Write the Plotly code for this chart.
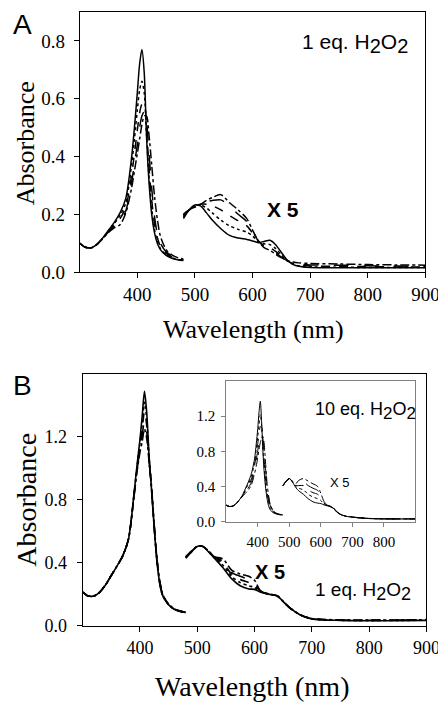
import plotly.graph_objects as go

# ---------------- data ----------------
wl_uv = [300, 310, 320, 330, 340, 350, 360, 370, 380, 390, 395, 400, 404, 408, 412, 416, 420, 425, 430, 435, 440, 450, 460, 470, 480]
wl_vis = [480, 490, 500, 510, 520, 530, 545, 560, 575, 590, 600, 610, 620, 630, 640, 650, 660, 670, 680, 700, 750, 800, 850, 900]

# Panel A (1 eq. H2O2) - Soret region
a_uv_0 = [0.100, 0.086, 0.084, 0.096, 0.118, 0.145, 0.172, 0.205, 0.255, 0.395, 0.50, 0.62, 0.72, 0.77, 0.69, 0.47, 0.32, 0.20, 0.135, 0.098, 0.078, 0.058, 0.048, 0.043, 0.040]
a_uv_1 = [0.100, 0.086, 0.084, 0.096, 0.117, 0.143, 0.168, 0.196, 0.240, 0.370, 0.46, 0.56, 0.63, 0.66, 0.62, 0.48, 0.34, 0.22, 0.145, 0.105, 0.082, 0.060, 0.050, 0.044, 0.041]
a_uv_2 = [0.100, 0.086, 0.084, 0.096, 0.116, 0.141, 0.163, 0.185, 0.225, 0.335, 0.41, 0.49, 0.55, 0.58, 0.58, 0.50, 0.37, 0.25, 0.165, 0.118, 0.090, 0.065, 0.053, 0.046, 0.042]
a_uv_3 = [0.100, 0.086, 0.084, 0.096, 0.116, 0.139, 0.158, 0.172, 0.212, 0.310, 0.375, 0.44, 0.50, 0.54, 0.555, 0.52, 0.42, 0.29, 0.19, 0.130, 0.100, 0.070, 0.056, 0.048, 0.043]
a_uv_4 = [0.100, 0.086, 0.084, 0.096, 0.116, 0.137, 0.153, 0.164, 0.205, 0.290, 0.35, 0.41, 0.46, 0.51, 0.54, 0.54, 0.48, 0.37, 0.26, 0.180, 0.125, 0.078, 0.060, 0.050, 0.045]
# Panel A - visible region (x5)
a_vis_0 = [0.185, 0.215, 0.232, 0.228, 0.205, 0.180, 0.150, 0.127, 0.118, 0.113, 0.108, 0.102, 0.106, 0.110, 0.095, 0.068, 0.042, 0.027, 0.020, 0.016, 0.015, 0.015, 0.015, 0.015]
a_vis_1 = [0.190, 0.215, 0.230, 0.232, 0.222, 0.205, 0.180, 0.160, 0.148, 0.138, 0.125, 0.105, 0.098, 0.095, 0.082, 0.060, 0.040, 0.028, 0.022, 0.018, 0.017, 0.016, 0.016, 0.016]
a_vis_2 = [0.195, 0.215, 0.228, 0.235, 0.235, 0.230, 0.215, 0.195, 0.178, 0.160, 0.135, 0.108, 0.092, 0.085, 0.072, 0.055, 0.040, 0.030, 0.025, 0.021, 0.020, 0.019, 0.018, 0.018]
a_vis_3 = [0.198, 0.215, 0.226, 0.236, 0.243, 0.248, 0.250, 0.228, 0.200, 0.175, 0.142, 0.108, 0.088, 0.078, 0.066, 0.052, 0.040, 0.032, 0.028, 0.025, 0.024, 0.022, 0.021, 0.020]
a_vis_4 = [0.200, 0.215, 0.225, 0.235, 0.248, 0.258, 0.268, 0.240, 0.215, 0.185, 0.145, 0.108, 0.085, 0.075, 0.062, 0.050, 0.040, 0.035, 0.032, 0.030, 0.028, 0.026, 0.025, 0.024]

# Panel B (1 eq. H2O2) - Soret region
b_uv_0 = [0.215, 0.190, 0.190, 0.215, 0.260, 0.320, 0.380, 0.445, 0.550, 0.850, 1.02, 1.18, 1.33, 1.49, 1.35, 1.08, 0.88, 0.62, 0.40, 0.26, 0.19, 0.135, 0.105, 0.092, 0.085]
b_uv_1 = [0.215, 0.190, 0.190, 0.215, 0.260, 0.320, 0.380, 0.445, 0.550, 0.845, 1.01, 1.16, 1.29, 1.42, 1.31, 1.07, 0.885, 0.625, 0.405, 0.265, 0.19, 0.135, 0.105, 0.092, 0.085]
b_uv_2 = [0.215, 0.190, 0.190, 0.215, 0.260, 0.320, 0.380, 0.445, 0.550, 0.840, 1.00, 1.14, 1.25, 1.36, 1.27, 1.06, 0.89, 0.63, 0.41, 0.27, 0.195, 0.137, 0.106, 0.093, 0.086]
b_uv_3 = [0.215, 0.190, 0.190, 0.215, 0.260, 0.320, 0.380, 0.445, 0.550, 0.835, 0.99, 1.12, 1.21, 1.30, 1.23, 1.05, 0.895, 0.635, 0.415, 0.275, 0.195, 0.138, 0.107, 0.094, 0.086]
b_uv_4 = [0.215, 0.190, 0.190, 0.215, 0.260, 0.320, 0.380, 0.445, 0.550, 0.830, 0.98, 1.10, 1.17, 1.25, 1.19, 1.04, 0.90, 0.64, 0.42, 0.28, 0.20, 0.140, 0.108, 0.095, 0.087]
# Panel B - visible region (x5)
b_vis_0 = [0.430, 0.470, 0.505, 0.505, 0.470, 0.430, 0.370, 0.300, 0.255, 0.235, 0.232, 0.215, 0.205, 0.198, 0.190, 0.155, 0.120, 0.093, 0.070, 0.045, 0.035, 0.033, 0.034, 0.035]
b_vis_1 = [0.432, 0.471, 0.505, 0.505, 0.471, 0.432, 0.385, 0.315, 0.275, 0.255, 0.245, 0.218, 0.206, 0.198, 0.190, 0.155, 0.120, 0.093, 0.070, 0.045, 0.036, 0.034, 0.035, 0.036]
b_vis_2 = [0.435, 0.472, 0.505, 0.505, 0.472, 0.435, 0.400, 0.330, 0.295, 0.275, 0.260, 0.220, 0.206, 0.199, 0.190, 0.155, 0.120, 0.093, 0.070, 0.046, 0.036, 0.035, 0.036, 0.037]
b_vis_3 = [0.438, 0.474, 0.505, 0.505, 0.474, 0.438, 0.410, 0.340, 0.315, 0.295, 0.275, 0.222, 0.207, 0.199, 0.190, 0.155, 0.120, 0.093, 0.070, 0.046, 0.037, 0.036, 0.037, 0.038]
b_vis_4 = [0.440, 0.475, 0.505, 0.505, 0.475, 0.440, 0.425, 0.355, 0.330, 0.315, 0.290, 0.225, 0.208, 0.200, 0.190, 0.155, 0.120, 0.093, 0.070, 0.047, 0.038, 0.037, 0.038, 0.040]

# Inset (10 eq. H2O2) - Soret region
c_uv_0 = [0.187, 0.172, 0.175, 0.200, 0.240, 0.290, 0.370, 0.450, 0.550, 0.72, 0.88, 1.06, 1.25, 1.37, 1.15, 0.82, 0.58, 0.38, 0.25, 0.17, 0.13, 0.100, 0.085, 0.078, 0.075]
c_uv_1 = [0.187, 0.172, 0.175, 0.200, 0.239, 0.288, 0.357, 0.427, 0.517, 0.68, 0.82, 0.97, 1.10, 1.22, 1.10, 0.85, 0.64, 0.44, 0.29, 0.20, 0.15, 0.105, 0.088, 0.079, 0.076]
c_uv_2 = [0.187, 0.172, 0.175, 0.200, 0.238, 0.286, 0.345, 0.405, 0.485, 0.64, 0.76, 0.89, 0.99, 1.08, 1.08, 0.90, 0.72, 0.50, 0.33, 0.23, 0.16, 0.110, 0.090, 0.080, 0.076]
c_uv_3 = [0.187, 0.172, 0.175, 0.200, 0.237, 0.283, 0.332, 0.382, 0.452, 0.60, 0.70, 0.81, 0.90, 0.98, 1.00, 0.95, 0.82, 0.58, 0.38, 0.26, 0.18, 0.115, 0.092, 0.082, 0.077]
c_uv_4 = [0.187, 0.172, 0.175, 0.200, 0.235, 0.280, 0.320, 0.360, 0.420, 0.55, 0.63, 0.73, 0.82, 0.90, 0.95, 0.97, 0.90, 0.65, 0.42, 0.28, 0.19, 0.120, 0.095, 0.083, 0.078]
# Inset - visible region (x5)
c_vis_0 = [0.410, 0.460, 0.490, 0.450, 0.390, 0.350, 0.310, 0.260, 0.225, 0.210, 0.205, 0.190, 0.180, 0.170, 0.150, 0.110, 0.085, 0.070, 0.060, 0.050, 0.035, 0.030, 0.030, 0.030]
c_vis_1 = [0.410, 0.460, 0.490, 0.452, 0.400, 0.380, 0.360, 0.310, 0.280, 0.260, 0.240, 0.200, 0.183, 0.171, 0.151, 0.111, 0.086, 0.070, 0.060, 0.050, 0.035, 0.031, 0.030, 0.030]
c_vis_2 = [0.410, 0.460, 0.490, 0.455, 0.410, 0.410, 0.410, 0.360, 0.330, 0.310, 0.270, 0.210, 0.185, 0.172, 0.152, 0.112, 0.087, 0.071, 0.061, 0.051, 0.036, 0.031, 0.031, 0.031]
c_vis_3 = [0.410, 0.460, 0.490, 0.457, 0.420, 0.440, 0.450, 0.410, 0.380, 0.355, 0.300, 0.220, 0.188, 0.173, 0.153, 0.113, 0.088, 0.071, 0.061, 0.051, 0.036, 0.032, 0.031, 0.031]
c_vis_4 = [0.410, 0.460, 0.490, 0.460, 0.430, 0.470, 0.490, 0.460, 0.430, 0.400, 0.320, 0.230, 0.190, 0.175, 0.155, 0.115, 0.090, 0.072, 0.062, 0.052, 0.037, 0.032, 0.031, 0.031]

dash_styles = ["solid", "dot", "dash", "longdash", "dashdot"]

# ---------------- figure ----------------
W, H = 446, 707
fig = go.Figure()


def add_panel(uv_list, vis_list, xa, ya, width):
    for i, (u, v) in enumerate(zip(uv_list, vis_list)):
        for xs, ys in ((wl_uv, u), (wl_vis, v)):
            fig.add_trace(go.Scatter(
                x=xs, y=ys, mode="lines", xaxis=xa, yaxis=ya,
                line=dict(color="black", width=width, dash=dash_styles[i], shape="spline", smoothing=0.8),
                hoverinfo="skip", showlegend=False))


add_panel([a_uv_0, a_uv_1, a_uv_2, a_uv_3, a_uv_4], [a_vis_0, a_vis_1, a_vis_2, a_vis_3, a_vis_4], "x", "y", 1.5)
add_panel([b_uv_0, b_uv_1, b_uv_2, b_uv_3, b_uv_4], [b_vis_0, b_vis_1, b_vis_2, b_vis_3, b_vis_4], "x2", "y2", 1.6)
add_panel([c_uv_0, c_uv_1, c_uv_2, c_uv_3, c_uv_4], [c_vis_0, c_vis_1, c_vis_2, c_vis_3, c_vis_4], "x3", "y3", 1.0)


def px(x):
    return x / W


def py(y):
    return 1 - y / H


serif = "Liberation Serif, Times New Roman, serif"
sans = "Liberation Sans, Arial, sans-serif"


def xax(dom, anchor, size, standoff, color="black", tickvals=(400, 500, 600, 700, 800, 900), ticklen=5):
    return dict(domain=dom, anchor=anchor, range=[300, 900], tickvals=list(tickvals),
                ticks="outside", ticklen=ticklen, tickcolor=color, tickwidth=1,
                showline=True, linecolor=color, linewidth=1, mirror=True,
                showgrid=False, zeroline=False, ticklabelstandoff=standoff,
                tickfont=dict(family=serif, size=size, color="black"))


def yax(dom, anchor, rng, tickvals, size, standoff, color="black", ticklen=5):
    return dict(domain=dom, anchor=anchor, range=rng, tickvals=tickvals,
                ticktext=["%.1f" % t for t in tickvals],
                ticks="outside", ticklen=ticklen, tickcolor=color, tickwidth=1,
                showline=True, linecolor=color, linewidth=1, mirror=True,
                showgrid=False, zeroline=False, ticklabelstandoff=standoff,
                tickfont=dict(family=serif, size=size, color="black"))


fig.update_layout(
    width=W, height=H, margin=dict(l=0, r=0, t=0, b=0),
    paper_bgcolor="white", plot_bgcolor="rgba(0,0,0,0)", showlegend=False,
    xaxis=xax([px(74), px(431)], "y", 19, 0),
    yaxis=yax([py(268.3), py(4)], "x", [0, 0.9], [0, 0.2, 0.4, 0.6, 0.8], 19, 5),
    xaxis2=xax([px(77), px(432)], "y2", 18, 0),
    yaxis2=yax([py(627.7), py(371.7)], "x2", [0, 1.6], [0, 0.4, 0.8, 1.2], 18, 6),
    xaxis3=xax([px(225.3), px(420.7)], "y3", 15, 2, color="#808080", tickvals=(400, 500, 600, 700, 800), ticklen=4),
    yaxis3=yax([py(521.7), py(379)], "x3", [0, 1.6], [0, 0.4, 0.8, 1.2], 15, 3, color="#808080", ticklen=4),
)


def h2o2(prefix, size):
    s = '<sub><span style="font-size:%dpx">2</span></sub>' % size
    return prefix + "H" + s + "O" + s


annots = [
    ("A", 15, 17, sans, 28, False, 0),
    ("B", 15, 383, sans, 28, False, 0),
    (h2o2("1 eq. ", 20), 358, 36, sans, 21, False, 0),
    ("X 5", 284, 205, sans, 21, True, 0),
    ("Absorbance", 18, 137, serif, 26, False, -90),
    ("Wavelength (nm)", 253, 327, serif, 26, False, 0),
    (h2o2("10 eq. ", 17), 369, 409, sans, 18, False, 0),
    ("X 5", 343, 482, sans, 13, False, 0),
    ("X 5", 271, 573, sans, 20, True, 0),
    (h2o2("1 eq. ", 18), 367, 593, sans, 19, False, 0),
    ("Absorbance", 19, 499, serif, 28, False, -90),
    ("Wavelength (nm)", 252, 689, serif, 28, False, 0),
]
for text, x, y, fam, size, bold, ang in annots:
    fig.add_annotation(
        text=("<b>%s</b>" % text) if bold else text,
        x=px(x), y=py(y), xref="paper", yref="paper",
        xanchor="center", yanchor="middle", showarrow=False, textangle=ang,
        font=dict(family=fam, size=size, color="black"))

fig.write_html("out.html")
